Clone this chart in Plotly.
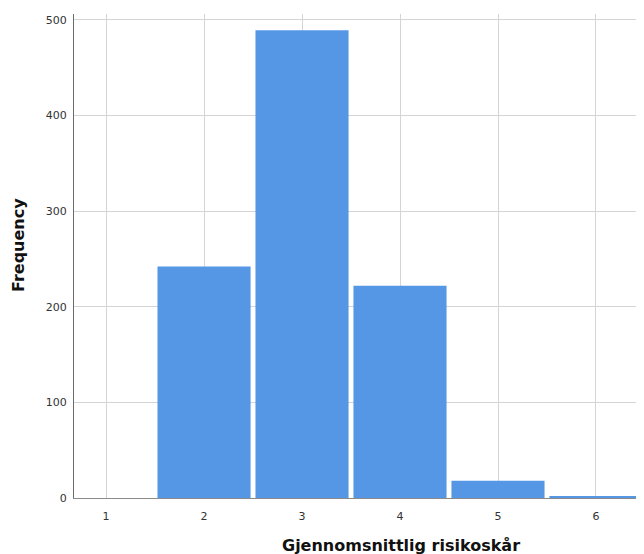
import plotly.graph_objects as go

categories = [2, 3, 4, 5, 6]
frequencies = [242, 489, 222, 18, 2]
x_ticks = [1, 2, 3, 4, 5, 6]
y_ticks = [0, 100, 200, 300, 400, 500]

fig = go.Figure()
fig.add_trace(go.Bar(
    x=categories, y=frequencies, width=0.95,
    marker=dict(color="#5596e5", line=dict(color="#5596e5", width=0)),
))

# page body has an 8px default margin, so the figure is offset by 8px
fig.update_layout(
    width=644, height=546,
    margin=dict(l=66, r=8, t=6, b=56),
    plot_bgcolor="white", paper_bgcolor="white",
    showlegend=False,
    font=dict(family="DejaVu Sans", size=11, color="#333333"),
    xaxis=dict(
        range=[0.673, 6.49], tickvals=x_ticks, ticktext=[str(v) for v in x_ticks],
        showgrid=True, gridcolor="#d4d4d4", gridwidth=1,
        showline=True, linecolor="#8a8a8a", linewidth=1,
        ticks="", ticklabelstandoff=8, zeroline=False,
        tickfont=dict(size=11, color="#333333"),
    ),
    yaxis=dict(
        range=[0, 506], tickvals=y_ticks,
        showgrid=True, gridcolor="#d4d4d4", gridwidth=1,
        showline=True, linecolor="#6a6a6a", linewidth=1,
        ticks="", ticklabelstandoff=4, zeroline=False,
        tickfont=dict(size=11, color="#333333"),
    ),
    annotations=[
        dict(text="<b>Gjennomsnittlig risikoskår</b>", xref="paper", yref="paper",
             x=(401 - 74) / 570, y=-(545 - 498) / 484, xanchor="center", yanchor="middle",
             showarrow=False, font=dict(family="DejaVu Sans", size=16, color="#111111")),
        dict(text="<b>Frequency</b>", xref="paper", yref="paper",
             x=-(74 - 18) / 570, y=(498 - 245) / 484, xanchor="center", yanchor="middle",
             textangle=-90, showarrow=False,
             font=dict(family="DejaVu Sans", size=16, color="#111111")),
    ],
)

fig.write_html("out.html")
